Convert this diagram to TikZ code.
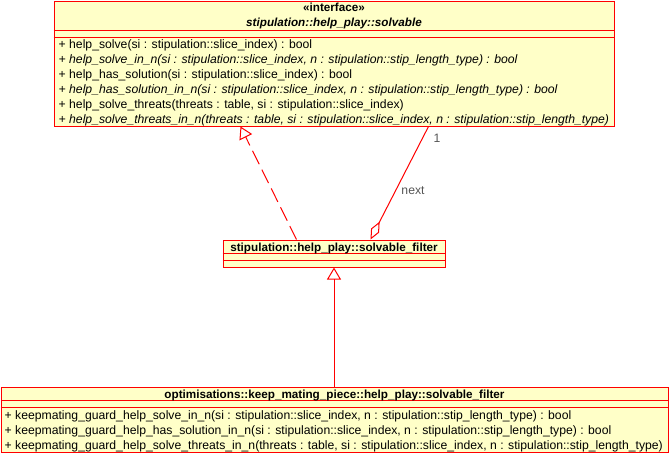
\documentclass[tikz,border=0pt]{standalone}
\usepackage{fontspec}
\setmainfont{Liberation Sans}
\usetikzlibrary{calc,arrows.meta}
\usepackage{xcolor}
\definecolor{fondclasse}{RGB}{255,255,200}
\definecolor{gristexte}{RGB}{85,85,85}

\begin{document}
\begin{tikzpicture}[x=1pt,y=-1pt,font=\fontsize{12.2}{15}\selectfont,
    classe/.style={draw=red,fill=fondclasse,rectangle,inner sep=0pt,line width=1pt},
    membre/.style={anchor=base west,inner sep=0pt},
    abstrait/.style={membre,font=\fontsize{12.2}{15}\selectfont\itshape},
    titre/.style={anchor=base,inner sep=0pt,font=\fontsize{11.7}{15}\selectfont\bfseries},
    lien/.style={draw=red,line width=1pt}]
      \useasboundingbox (0,0) rectangle (669,453);
      \def\pas{15}

      % Classes
      \node[classe,minimum width=560pt,minimum height=125pt] (solvable) at (334,63.5) {};
      \node[classe,minimum width=222pt,minimum height=27pt] (filter) at (334,253.5) {};
      \node[classe,minimum width=667pt,minimum height=65pt] (keep) at (334.5,419.5) {};

      \draw[lien] ($(solvable.north west)+(0,30)$) -- ($(solvable.north east)+(0,30)$);
      \draw[lien] ($(solvable.north west)+(0,37)$) -- ($(solvable.north east)+(0,37)$);
      \draw[lien] ($(filter.north west)+(0,14)$) -- ($(filter.north east)+(0,14)$);
      \draw[lien] ($(filter.north west)+(0,21)$) -- ($(filter.north east)+(0,21)$);
      \draw[lien] ($(keep.north west)+(0,14)$) -- ($(keep.north east)+(0,14)$);
      \draw[lien] ($(keep.north west)+(0,21)$) -- ($(keep.north east)+(0,21)$);

      % Titres
      \node[titre] (solvable-stereo) at (334,11) {«interface»};
      \node[titre,font=\fontsize{11.7}{15}\selectfont\bfseries\itshape] (solvable-nom) at (334,26)
        {stipulation::help\_play::solvable};
      \node[titre] (filter-nom) at (334,251.5) {stipulation::help\_play::solvable\_filter};
      \node[titre] (keep-nom) at (334.5,398.5)
        {optimisations::keep\_mating\_piece::help\_play::solvable\_filter};

      % Operations
      \node[membre] (solvable-op1) at (58.5,48)
        {+ help\_solve(si : stipulation::slice\_index) : bool};
      \node[abstrait] (solvable-op2) at (58.5,48+\pas)
        {+ help\_solve\_in\_n(si : stipulation::slice\_index, n : stipulation::stip\_length\_type) : bool};
      \node[membre] (solvable-op3) at (58.5,48+2*\pas)
        {+ help\_has\_solution(si : stipulation::slice\_index) : bool};
      \node[abstrait] (solvable-op4) at (58.5,48+3*\pas)
        {+ help\_has\_solution\_in\_n(si : stipulation::slice\_index, n : stipulation::stip\_length\_type) : bool};
      \node[membre] (solvable-op5) at (58.5,48+4*\pas)
        {+ help\_solve\_threats(threats : table, si : stipulation::slice\_index)};
      \node[abstrait] (solvable-op6) at (58.5,48+5*\pas)
        {+ help\_solve\_threats\_in\_n(threats : table, si : stipulation::slice\_index, n : stipulation::stip\_length\_type)};

      \node[membre] (keep-op1) at (4.5,419)
        {+ keepmating\_guard\_help\_solve\_in\_n(si : stipulation::slice\_index, n : stipulation::stip\_length\_type) : bool};
      \node[membre] (keep-op2) at (4.5,419+\pas)
        {+ keepmating\_guard\_help\_has\_solution\_in\_n(si : stipulation::slice\_index, n : stipulation::stip\_length\_type) : bool};
      \node[membre] (keep-op3) at (4.5,419+2*\pas)
        {+ keepmating\_guard\_help\_solve\_threats\_in\_n(threats : table, si : stipulation::slice\_index, n : stipulation::stip\_length\_type)};

      % Liens
      \coordinate (real-a) at ($(filter.north west)+(74,0)$);
      \coordinate (real-b) at ($(solvable.south west)+(187,0)$);
      \coordinate (agg-a) at ($(filter.north west)+(148,0)$);
      \coordinate (agg-b) at ($(solvable.south west)+(375,0)$);

      \draw[lien,dash pattern=on 15pt off 6pt,-{Triangle[open,length=12pt,width=14pt]}]
        (real-a) -- (real-b);
      \draw[lien,{Diamond[open,length=20pt,width=9pt]}-] (agg-a) -- (agg-b);
      \draw[lien,-{Triangle[open,length=12pt,width=14pt]}] (filter.south |- keep.north) -- (filter.south);

      \node[gristexte,inner sep=0pt] (agg-mult) at (437,138) {1};
      \node[gristexte,inner sep=0pt] (agg-role) at (413,191) {next};
    \end{tikzpicture}
\end{document}
